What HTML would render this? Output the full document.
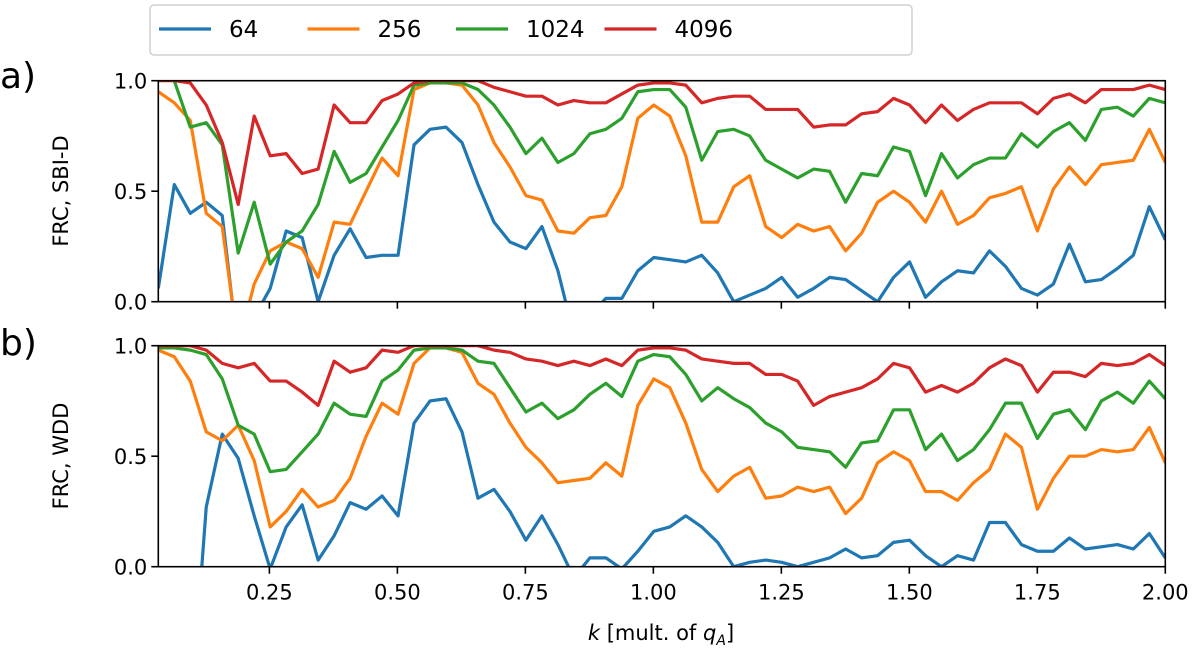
<!DOCTYPE html>
<html><head><meta charset="utf-8"><style>
html,body{margin:0;padding:0;background:#fff;overflow:hidden;width:1200px;height:657px;}
svg{display:block;font-family:"DejaVu Sans","Liberation Sans",sans-serif;}
</style></head><body>
<svg id="chart" width="1200" height="657" viewBox="0 0 1200 657" xmlns="http://www.w3.org/2000/svg">
<defs>
<clipPath id="clipA"><rect x="158.3" y="80.7" width="1007" height="221"/></clipPath>
<clipPath id="clipB"><rect x="158.3" y="345.7" width="1007" height="221"/></clipPath>
</defs>
<g id="legend">
<rect x="150" y="5" width="762" height="50" rx="4" fill="#fff" stroke="#d0d0d0" stroke-width="1.5"/>
</g>
<text x="0" y="88" font-size="36">a)</text>
<text x="0" y="355" font-size="36">b)</text>
<text transform="translate(68,191) rotate(-90)" text-anchor="middle" font-size="21">FRC, SBI-D</text>
<text transform="translate(68,456) rotate(-90)" text-anchor="middle" font-size="21">FRC, WDD</text>
<text x="661" y="640" text-anchor="middle" font-size="21"><tspan font-style="italic">k</tspan> [mult. of <tspan font-style="italic">q</tspan><tspan font-style="italic" font-size="14" dy="5">A</tspan><tspan dy="-5">]</tspan></text>
<g id="plots"></g>
</svg>
<script>
const seriesNames = ["64","256","1024","4096"];
const colors = ["#1f77b4","#ff7f0e","#2ca02c","#d62728"];
const xTicks = [0.25,0.5,0.75,1.0,1.25,1.5,1.75,2.0];
const xTickLabels = ["0.25","0.50","0.75","1.00","1.25","1.50","1.75","2.00"];
const yTicks = [0,0.5,1.0];
const yTickLabels = ["0.0","0.5","1.0"];
const kMin = 0.033, kMax = 2.0;
const blueA = [0.06,0.53,0.40,0.45,0.39,-0.23,-0.07,0.06,0.32,0.29,0.0,0.21,0.33,0.2,0.21,0.21,0.71,0.78,0.79,0.72,0.53,0.36,0.27,0.24,0.34,0.14,-0.15,-0.06,0.015,0.015,0.14,0.2,0.19,0.18,0.21,0.13,0.0,0.03,0.06,0.11,0.02,0.06,0.11,0.1,0.05,0.0,0.11,0.18,0.02,0.09,0.14,0.13,0.23,0.16,0.06,0.03,0.08,0.26,0.09,0.1,0.15,0.21,0.43,0.28];
const orangeA = [0.95,0.9,0.82,0.4,0.34,-0.2,0.08,0.23,0.27,0.24,0.11,0.36,0.35,0.5,0.65,0.57,0.96,0.99,0.99,0.98,0.89,0.72,0.61,0.48,0.46,0.32,0.31,0.38,0.39,0.52,0.83,0.89,0.84,0.66,0.36,0.36,0.52,0.57,0.34,0.29,0.35,0.32,0.34,0.23,0.31,0.45,0.5,0.45,0.36,0.5,0.35,0.39,0.47,0.49,0.52,0.32,0.51,0.61,0.53,0.62,0.63,0.64,0.78,0.63];
const greenA = [1.1,1.0,0.79,0.81,0.71,0.22,0.45,0.17,0.27,0.32,0.44,0.68,0.54,0.58,0.7,0.82,0.98,0.99,0.99,0.99,0.96,0.89,0.79,0.67,0.74,0.63,0.67,0.76,0.78,0.83,0.95,0.96,0.96,0.88,0.64,0.77,0.78,0.75,0.64,0.6,0.56,0.6,0.59,0.45,0.58,0.57,0.7,0.68,0.48,0.67,0.56,0.62,0.65,0.65,0.76,0.7,0.77,0.81,0.73,0.87,0.88,0.84,0.92,0.9];
const redA = [1.0,1.0,0.99,0.89,0.72,0.44,0.84,0.66,0.67,0.58,0.6,0.89,0.81,0.81,0.91,0.94,0.99,1.0,1.0,1.0,1.0,0.97,0.95,0.93,0.93,0.89,0.91,0.9,0.9,0.94,0.98,0.99,0.99,0.98,0.9,0.92,0.93,0.93,0.87,0.87,0.87,0.79,0.8,0.8,0.85,0.86,0.92,0.89,0.81,0.89,0.82,0.87,0.9,0.9,0.9,0.85,0.92,0.94,0.9,0.96,0.96,0.96,0.98,0.96];
const blueB = [-1.0,-1.0,-0.7,0.27,0.6,0.49,0.23,-0.01,0.18,0.28,0.03,0.14,0.29,0.26,0.32,0.23,0.65,0.75,0.76,0.61,0.31,0.35,0.25,0.12,0.23,0.1,-0.05,0.04,0.04,-0.01,0.07,0.16,0.18,0.23,0.18,0.11,0.0,0.02,0.03,0.02,0.0,0.02,0.04,0.08,0.04,0.05,0.11,0.12,0.05,0.0,0.05,0.03,0.2,0.2,0.1,0.07,0.07,0.13,0.08,0.09,0.1,0.08,0.15,0.04];
const orangeB = [0.98,0.95,0.84,0.61,0.57,0.64,0.48,0.18,0.25,0.35,0.27,0.3,0.4,0.59,0.74,0.69,0.92,0.99,0.99,0.97,0.83,0.78,0.65,0.54,0.47,0.38,0.39,0.4,0.47,0.41,0.73,0.85,0.81,0.65,0.44,0.34,0.41,0.45,0.31,0.32,0.36,0.34,0.36,0.24,0.31,0.47,0.52,0.48,0.34,0.34,0.3,0.38,0.44,0.6,0.54,0.26,0.4,0.5,0.5,0.53,0.52,0.53,0.63,0.47];
const greenB = [0.99,0.99,0.98,0.96,0.85,0.64,0.6,0.43,0.44,0.52,0.6,0.74,0.69,0.68,0.84,0.89,0.98,0.99,0.99,0.98,0.93,0.92,0.81,0.7,0.74,0.67,0.71,0.78,0.83,0.77,0.93,0.96,0.95,0.87,0.75,0.81,0.76,0.72,0.65,0.61,0.54,0.53,0.52,0.45,0.56,0.57,0.71,0.71,0.53,0.6,0.48,0.53,0.62,0.74,0.74,0.58,0.69,0.71,0.62,0.75,0.79,0.74,0.84,0.76];
const redB = [1.0,1.0,1.0,0.98,0.92,0.9,0.92,0.84,0.84,0.79,0.73,0.93,0.88,0.9,0.98,0.97,1.0,1.0,1.0,1.0,1.0,0.98,0.97,0.94,0.93,0.91,0.93,0.91,0.94,0.91,0.98,0.99,0.99,0.98,0.94,0.93,0.92,0.92,0.87,0.87,0.84,0.73,0.77,0.79,0.81,0.85,0.92,0.9,0.79,0.82,0.79,0.83,0.9,0.94,0.91,0.79,0.88,0.88,0.86,0.92,0.91,0.92,0.96,0.91];

const NS = "http://www.w3.org/2000/svg";
const L = 158.3, R = 1165.3;
function xScale(k){ return L + (k - kMin) / (kMax - kMin) * (R - L); }
function mk(tag, attrs){ const e = document.createElementNS(NS, tag); for (const a in attrs) e.setAttribute(a, attrs[a]); return e; }

const plots = document.getElementById("plots");
const panels = [
  {id:"a", top:80.7, bottom:301.7, clip:"clipA", data:[blueA,orangeA,greenA,redA], showX:false},
  {id:"b", top:345.7, bottom:566.7, clip:"clipB", data:[blueB,orangeB,greenB,redB], showX:true}
];
panels.forEach(p => {
  const yScale = v => p.bottom - v * (p.bottom - p.top);
  const g = mk("g", {});
  
  
  plots.appendChild(g);
  const lines = mk("g", {"clip-path": "url(#" + p.clip + ")"});
  g.appendChild(lines);
  p.data.forEach((vals, si) => {
    const n = vals.length;
    const pts = vals.map((v, i) => {
      const k = kMin + i * (kMax - kMin) / (n - 1);
      return xScale(k).toFixed(2) + "," + yScale(v).toFixed(2);
    }).join(" ");
    const pl = mk("polyline", {points: pts, fill: "none", stroke: colors[si], "stroke-width": 3.2, "stroke-linejoin": "round"});
    
    
    lines.appendChild(pl);
  });
  const frame = mk("rect", {x: L, y: p.top, width: R - L, height: p.bottom - p.top, fill: "none", stroke: "#000", "stroke-width": 1.6});
  
  
  g.appendChild(frame);
  yTicks.forEach((t, i) => {
    const y = yScale(t);
    const tk = mk("line", {x1: L - 7, x2: L, y1: y, y2: y, stroke: "#000", "stroke-width": 1.6});
    
    
    g.appendChild(tk);
    const tx = mk("text", {x: L - 11, y: y + 8, "text-anchor": "end", "font-size": 21});
    
    
    tx.textContent = yTickLabels[i];
    g.appendChild(tx);
  });
  xTicks.forEach((t, i) => {
    const x = xScale(t);
    const tk = mk("line", {x1: x, x2: x, y1: p.bottom, y2: p.bottom + 7, stroke: "#000", "stroke-width": 1.6});
    
    
    g.appendChild(tk);
    if (p.showX) {
      const tx = mk("text", {x: x, y: p.bottom + 33, "text-anchor": "middle", "font-size": 21});
      
      
      tx.textContent = xTickLabels[i];
      g.appendChild(tx);
    }
  });
});

const legend = document.getElementById("legend");
seriesNames.forEach((nm, i) => {
  const x0 = 159 + i * 148.5;
  const eg = mk("g", {});
  
  
  const ln = mk("line", {x1: x0, x2: x0 + 52, y1: 29, y2: 29, stroke: colors[i], "stroke-width": 3.2});
  
  
  eg.appendChild(ln);
  const tx = mk("text", {x: x0 + 70, y: 37, "font-size": 23});
  
  
  tx.textContent = nm;
  eg.appendChild(tx);
  legend.appendChild(eg);
});
</script>
</body></html>
